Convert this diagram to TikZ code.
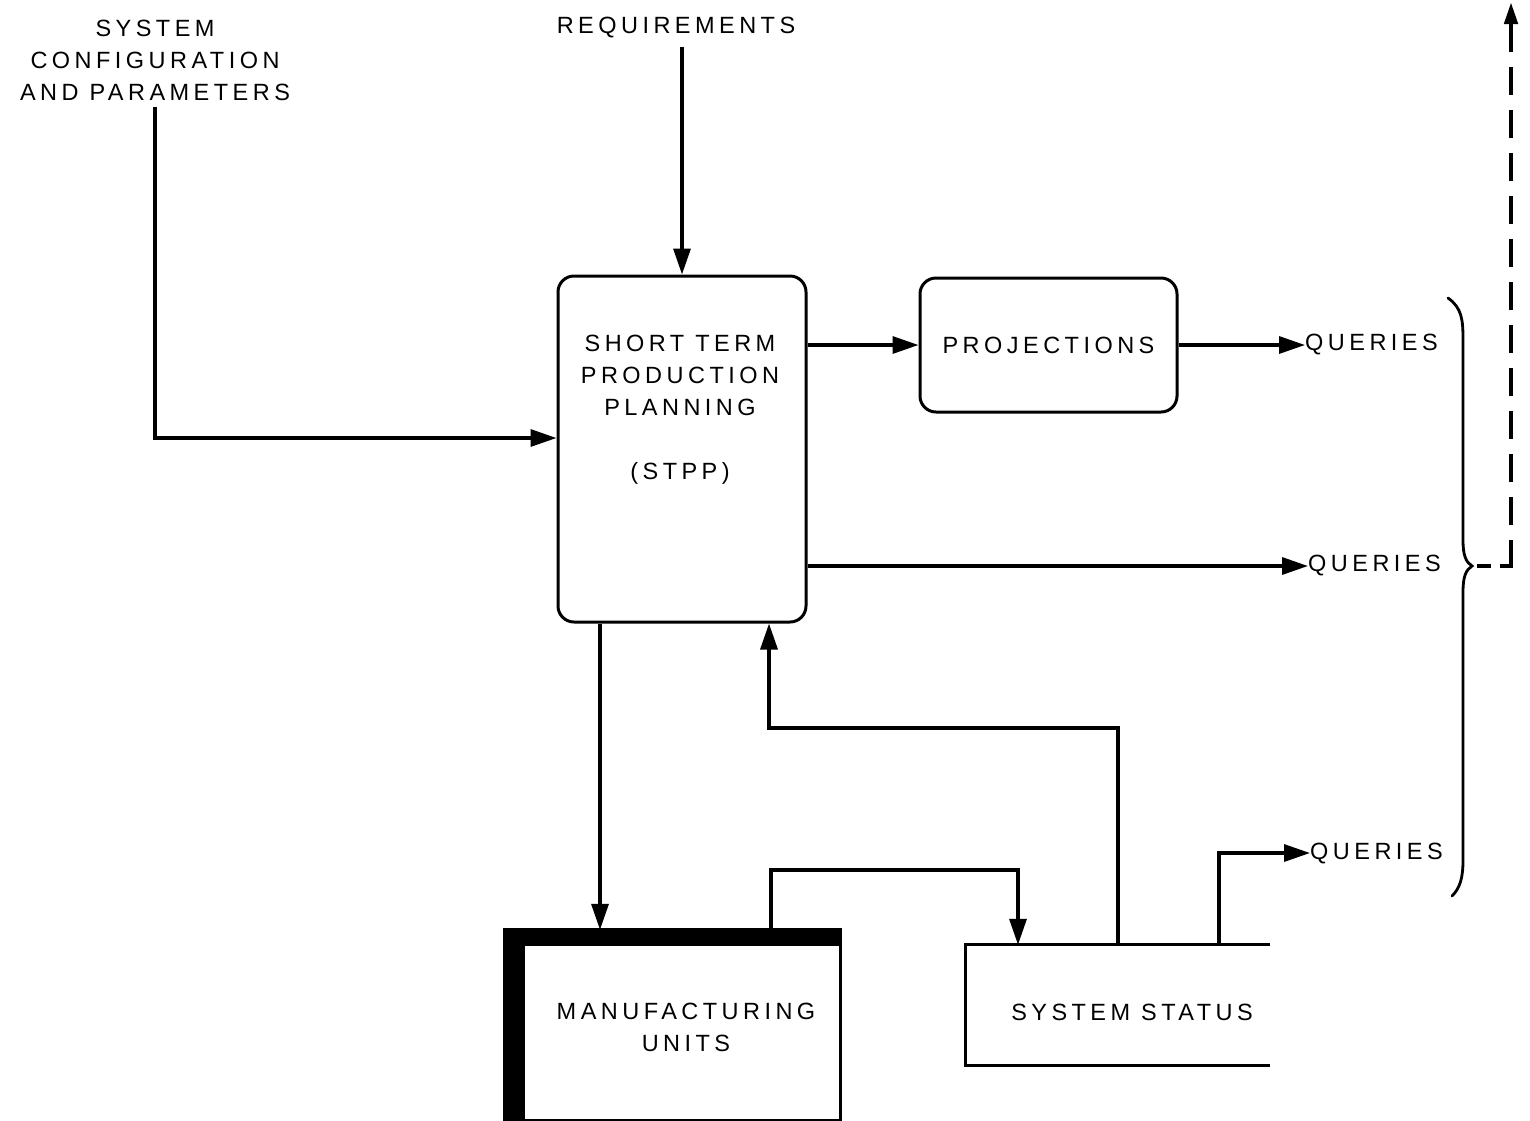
\documentclass[tikz,border=0pt]{standalone}
\usepackage{fontspec}
\usetikzlibrary{arrows.meta,calc}
\newfontfamily\lblfont[LetterSpace=19]{Liberation Sans}
\begin{document}
\begin{tikzpicture}[x=1pt,y=-1pt,
  lbl/.style={font=\lblfont\fontsize{23.5}{32}\selectfont, align=center, inner sep=0pt},
  rbox/.style={draw, line width=3pt, rounded corners=16pt},
  arr/.style={line width=3.3pt, -{Triangle[length=26pt,width=17pt]}},
  ln/.style={line width=3pt},
  dshh/.style={line width=4.5pt, dash pattern=on 14pt off 9pt},
  dshv/.style={line width=4.5pt, dash pattern=on 28pt off 15pt, -{Triangle[length=22pt,width=13pt]}}]
\useasboundingbox[fill=white] (0,0) rectangle (1530,1120);

% labels
\node[lbl, inner ysep=6pt] (cfg) at (155,60) {SYSTEM\\CONFIGURATION\\AND PARAMETERS};
\node[lbl, inner ysep=8pt] (req) at (676,28) {REQUIREMENTS};

% boxes
\node[rbox, minimum width=248pt, minimum height=346pt] (stpp) at (682,449) {};
\node[lbl] (stpptxt) at (680,410) {SHORT TERM\\PRODUCTION\\PLANNING\\[32pt](STPP)};
\node[rbox, minimum width=257pt, minimum height=134pt, lbl] (proj) at (1048.5,345) {PROJECTIONS};

\node[minimum width=335pt, minimum height=190pt, inner sep=0pt] (mu) at (672.5,1025) {};
\node[lbl] (mutxt) at (686,1027) {MANUFACTURING\\UNITS};
\draw[line width=2.8pt] (mu.south west) rectangle (mu.north east);
\fill (mu.north west) rectangle ($(mu.south west)+(20,0)$);
\fill (mu.north west) rectangle ($(mu.north east)+(0,16)$);

\node[minimum width=304pt, minimum height=120pt, inner sep=0pt] (ss) at (1118,1005) {};
\node[lbl] (sstxt) at (1132,1012) {SYSTEM STATUS};
\draw[ln] (ss.north east) -- (ss.north west) -- (ss.south west) -- (ss.south east);

% queries
\node[lbl, anchor=west] (q1) at (1305,345) {QUERIES};
\node[lbl, anchor=west] (q2) at (1308,566) {QUERIES};
\node[lbl, anchor=west] (q3) at (1310,853) {QUERIES};

% connectors
\draw[arr] (stpp.north |- req.south) -- (stpp.north);
\draw[arr] (cfg.south) |- (stpp.west |- 0,438);
\draw[arr] (stpp.east |- proj.west) -- (proj.west);
\draw[arr] (proj.east) -- (q1.west);
\draw[arr] (stpp.east |- q2.west) -- (q2.west);
\draw[arr] (stpp.south -| 600,0) -- (mu.north -| 600,0);
\draw[arr] (mu.north -| 771,0) |- (1018,870) -- (ss.north -| 1018,0);
\draw[arr] (ss.north) |- (769,728) -- (stpp.south -| 769,0);
\draw[arr] (ss.north -| 1219,0) |- (q3.west);

% brace
\coordinate (bt) at (1472,566);
\coordinate (corner) at (1511,566);
\coordinate (topend) at (1511,2);
\draw[line width=2.8pt, line cap=round]
  (1448,298) .. controls (1462,308) and (1463,320) .. (1463,340)
  -- (1463,540) .. controls (1463,556) and (1466,562) .. (bt)
  .. controls (1466,570) and (1463,576) .. (1463,592)
  -- (1463,860) .. controls (1463,878) and (1460,888) .. (1452,896);
\draw[dshh] ($(bt)+(5,0)$) -- ($(corner)+(2.25,0)$);
\draw[dshv] ($(corner)+(0,2)$) -- (topend);
\end{tikzpicture}
\end{document}
